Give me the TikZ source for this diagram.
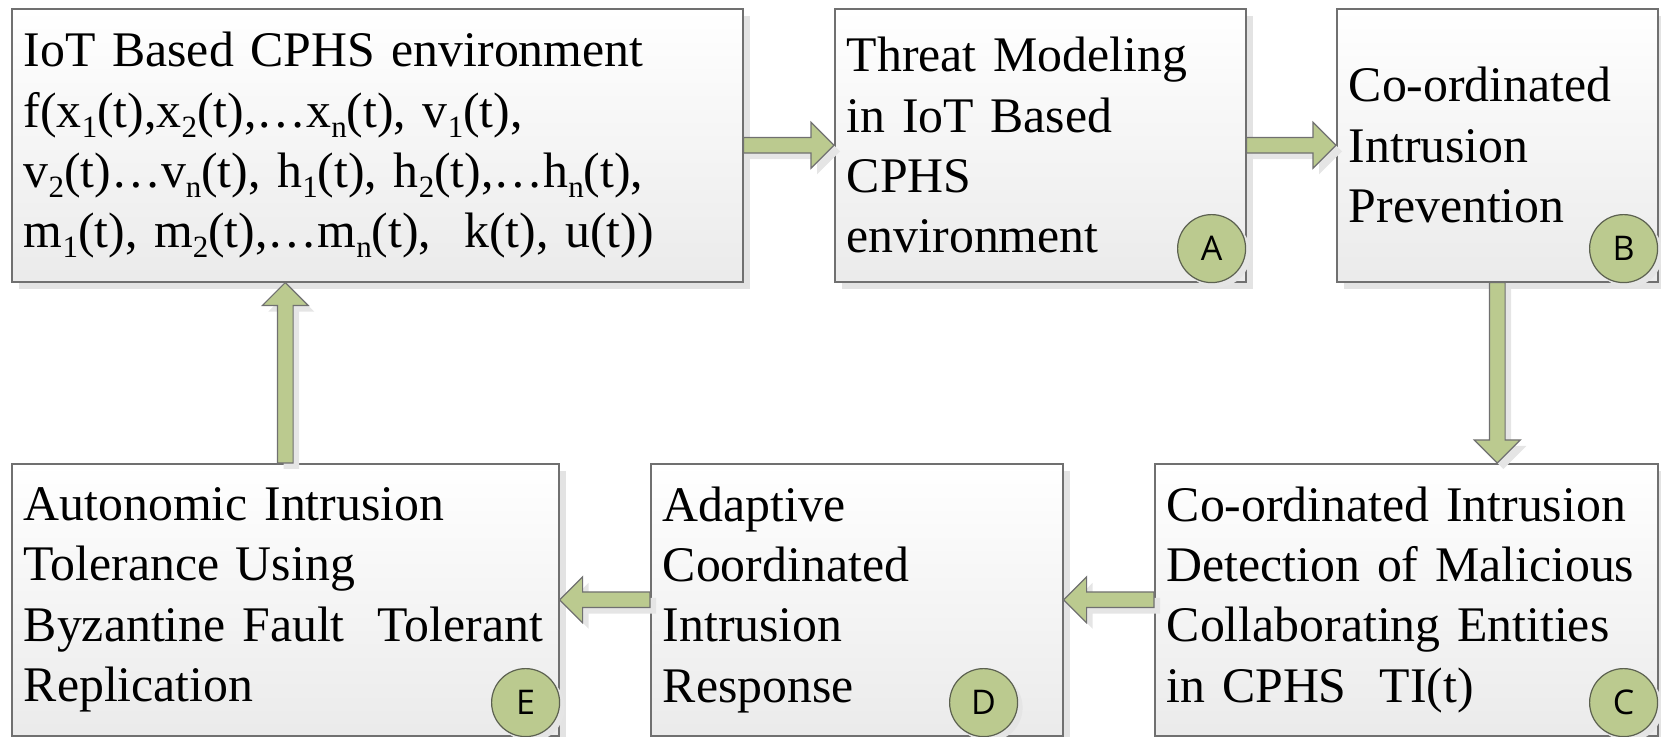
\documentclass[tikz,border=0pt]{standalone}
\usepackage{fontspec}
\setmainfont{Liberation Serif}
\newfontfamily\badgefont{Open Sans}
\usetikzlibrary{calc}
\usetikzlibrary{shadows}

\definecolor{leaf}{HTML}{BBCA8F}
\definecolor{rim}{HTML}{707070}
\definecolor{badgerim}{HTML}{5C6150}

% subscript as in the figure
\newcommand{\idx}[1]{\raisebox{-0.2em}{\fontsize{15.5pt}{15.5pt}\selectfont #1}}

% block arrow from #1 (tail) to #2 (tip)
\newcommand{\blockarrow}[2]{%
  \coordinate (ha) at ($(#2)!11.5pt!(#1)$);
  \draw [flow] ($(#1)!3.9pt!90:(#2)$) -- ($(ha)!3.9pt!-90:(#1)$)
    -- ($(ha)!11.5pt!-90:(#1)$) -- (#2) -- ($(ha)!11.5pt!90:(#1)$)
    -- ($(ha)!3.9pt!90:(#1)$) -- ($(#1)!3.9pt!-90:(#2)$) -- cycle;
}

\begin{document}
\begin{tikzpicture}[x=0.5pt, y=-0.5pt,
    box/.style={draw=rim, line width=0.8pt, top color=white, bottom color=black!8,
      anchor=north west, inner xsep=6pt, inner ysep=0pt, align=left,
      font=\fontsize{24.9pt}{30.2pt}\selectfont,
      drop shadow={shadow xshift=3.5pt, shadow yshift=-3.5pt, fill=black!11, opacity=1}},
    flow/.style={draw=rim, line width=0.6pt, fill=leaf, line join=miter,
      drop shadow={shadow xshift=3pt, shadow yshift=-3pt, fill=black!10, opacity=1}},
    badge/.style={circle, draw=badgerim, line width=0.6pt, fill=leaf,
      minimum size=34pt, inner sep=0pt,
      font=\badgefont\fontsize{17pt}{17pt}\selectfont,
      drop shadow={shadow xshift=2.5pt, shadow yshift=-2.5pt, fill=black!10, opacity=1}}]

\useasboundingbox (0,0) rectangle (1661,737);

% top row
\node [box, minimum width=365.5pt, minimum height=136.5pt, text width=353.5pt] (env) at (11,8)
  {IoT Based CPHS environment\\
   f(x\idx{1}(t),x\idx{2}(t),…x\idx{n}(t), v\idx{1}(t),\\
   v\idx{2}(t)…v\idx{n}(t), h\idx{1}(t), h\idx{2}(t),…h\idx{n}(t),\\
   m\idx{1}(t), m\idx{2}(t),…m\idx{n}(t),\ \ k(t), u(t))};
\node [box, minimum width=205.5pt, minimum height=136.5pt, text width=193.5pt] (thr) at (834,8)
  {Threat Modeling\\ in IoT Based\\ CPHS\\ environment};
\node [box, minimum width=160.5pt, minimum height=136.5pt, text width=148.5pt] (prev) at (1336,8)
  {Co-ordinated\\ Intrusion\\ Prevention};

% bottom row
\node [box, minimum width=273.5pt, minimum height=136pt, text width=261.5pt] (tol) at (11,463)
  {Autonomic Intrusion\\ Tolerance Using\\ \mbox{Byzantine Fault\ \ Tolerant}\\ Replication};
\node [box, minimum width=206pt, minimum height=136pt, text width=194pt] (resp) at (650,463)
  {Adaptive\\ Coordinated\\ Intrusion\\ Response};
\node [box, minimum width=251.5pt, minimum height=136pt, text width=239.5pt] (det) at (1154,463)
  {Co-ordinated Intrusion\\ Detection of Malicious\\ Collaborating Entities\\ in CPHS\ \ TI(t)};

\node [badge] (bA) at ($(thr.south east)+(-35,-34)$) {A};
\node [badge] (bB) at ($(prev.south east)+(-35,-34)$) {B};
\node [badge] (bC) at ($(det.south east)+(-35,-34)$) {C};
\node [badge] (bD) at ($(resp.south east)+(-80,-34)$) {D};
\node [badge] (bE) at ($(tol.south east)+(-34,-34)$) {E};

\coordinate (cTop) at (prev.south |- det.north);
\coordinate (eBot) at (tol.north |- env.south);

\blockarrow{env.east}{thr.west}
\blockarrow{thr.east}{prev.west}
\blockarrow{prev.south}{cTop}
\blockarrow{det.west}{resp.east}
\blockarrow{resp.west}{tol.east}
\blockarrow{tol.north}{eBot}

\end{tikzpicture}
\end{document}
